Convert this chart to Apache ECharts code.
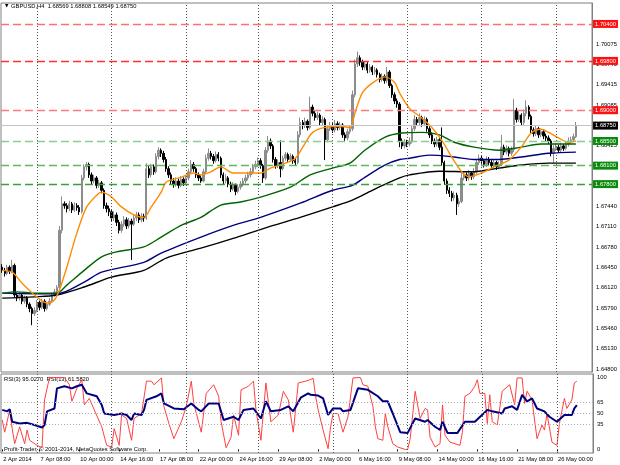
<!DOCTYPE html>
<html><head><meta charset="utf-8">
<script src="https://cdn.jsdelivr.net/npm/echarts@6/dist/echarts.min.js"></script>
<style>html,body{margin:0;padding:0;background:#fff}#c{width:620px;height:465px}</style>
</head><body><div id="c"></div>
<script>
// Prices are stored as pips above 1.6000 (e.g. 640 -> 1.6640)
const opens = [645,640,635,645,638,648,600,595,600,590, 595,585,578,570,575,588,580,590,578,585, 590,600,605,612,705,748,745,740,748,738, 745,742,735,790,808,812,795,785,790,778, 782,770,745,740,735,725,730,718,705,715, 722,712,720,715,725,730,722,728,725,805, 795,808,800,825,835,830,820,805,795,785, 780,785,778,788,782,790,800,812,805,795, 790,785,800,822,830,825,818,828,822,795, 785,790,780,772,778,768,775,780,785,790, 795,800,808,812,818,810,790,835,850,842, 820,810,815,805,822,828,820,825,818,815, 860,880,875,882,872,905,895,888,892,880, 885,852,870,875,868,878,872,876,860,855, 865,870,925,975,985,978,970,975,965,970, 962,965,958,950,955,948,962,940,925,915, 910,850,842,848,845,850,870,885,880,888, 878,885,870,860,850,845,852,840,815,785, 770,765,758,762,748,752,790,795,790,798, 792,800,815,822,818,812,820,815,810,815, 808,812,840,832,838,830,836,900,885,892, 880,895,905,890,868,862,870,860,865,858, 855,850,830,838,840,835,842,838,845,850, 852,856.9];
const highs = [650,644,649,648,657,651,604,605,603,599, 598,588,581,580,592,591,594,593,589,595, 604,610,616,712,760,752,749,753,751,750, 749,746,795,812,816,815,799,795,793,787, 785,773,750,745,739,736,734,722,720,728, 726,725,724,730,735,734,733,732,814,810, 813,812,830,840,838,834,824,809,799,790, 791,789,793,791,795,805,819,816,808,799, 794,805,828,838,834,829,833,832,825,799, 796,793,784,783,781,780,785,790,795,800, 806,813,818,823,822,813,840,858,854,845, 824,820,851,826,832,831,830,828,822,866, 888,884,888,885,922,909,899,898,895,890, 888,876,881,879,884,882,881,879,864,870, 875,932,982,995,989,982,980,978,975,973, 970,968,961,960,958,970,965,943,929,919, 913,854,853,852,856,876,892,889,895,891, 890,888,874,864,854,857,855,872,818,789, 775,769,768,766,757,798,801,799,803,801, 806,820,828,826,821,825,824,819,820,818, 817,860,844,843,841,841,918,904,898,895, 901,916,908,893,872,875,873,870,868,862, 859,853,843,846,844,847,845,849,856,857, 862,880.8];
const lows = [636,630,632,634,635,596,590,591,585,586, 580,572,551,566,572,575,577,573,575,582, 587,597,602,609,700,740,734,736,733,735, 737,730,732,786,802,790,780,781,773,774, 765,740,734,728,719,720,712,700,701,711, 707,708,657,712,720,717,718,719,722,790, 791,795,797,820,824,815,800,790,780,774, 776,773,775,777,779,786,797,800,790,785, 782,783,797,818,820,813,815,817,790,779, 781,775,767,769,762,765,771,776,781,786, 791,796,804,808,805,782,787,831,837,815, 805,806,791,802,818,815,816,813,810,812, 856,869,871,867,869,890,883,884,875,876, 819,848,866,863,864,867,868,855,850,851, 861,866,921,970,972,965,966,960,961,957, 958,953,945,946,943,944,936,920,910,904, 840,837,838,840,841,846,866,875,876,873, 874,865,855,845,840,841,835,810,779,764, 759,752,753,730,743,749,786,785,786,787, 788,796,811,813,807,808,810,804,806,803, 804,809,827,828,825,826,832,880,881,875, 876,890,885,863,857,858,855,856,853,850, 845,825,814,834,831,832,834,835,841,846, 848,854.9];
const closes = [640,635,645,638,648,600,595,600,590,595, 585,578,570,575,588,580,590,578,585,590, 600,605,612,705,748,745,740,748,738,745, 742,735,790,808,812,795,785,790,778,782, 770,745,740,735,725,730,718,705,715,722, 712,720,715,725,730,722,728,725,805,795, 808,800,825,835,830,820,805,795,785,780, 785,778,788,782,790,800,812,805,795,790, 785,800,822,830,825,818,828,822,795,785, 790,780,772,778,768,775,780,785,790,795, 800,808,812,818,810,790,835,850,842,820, 810,815,805,822,828,820,825,818,815,860, 880,875,882,872,905,895,888,892,880,885, 852,870,875,868,878,872,876,860,855,865, 870,925,975,985,978,970,975,965,970,962, 965,958,950,955,948,962,940,925,915,910, 850,842,848,845,850,870,885,880,888,878, 885,870,860,850,845,852,840,815,785,770, 765,758,762,748,752,790,795,790,798,792, 800,815,822,818,812,820,815,810,815,808, 812,840,832,838,830,836,900,885,892,880, 895,905,890,868,862,870,860,865,858,855, 850,830,838,840,835,842,838,845,850,852, 857,875];

// moving averages: [bar index, pips]
const maOrange = [[0,640],[4,637],[8,619],[13,600],[18,587],[21,592],[23,608],[26,645],[30,700],[34,743],[38,762],[40,767],[44,759],[48,743],[53,730],[57,726],[60,743],[64,767],[66,783],[72,791],[77,798],[80,795],[84,800],[88,808],[93,798],[100,798],[104,798],[108,806],[114,814],[118,822],[121,840],[125,864],[130,872],[136,874],[140,872],[142,895],[145,928],[149,944],[154,954],[158,945],[160,928],[164,903],[169,887],[173,872],[177,851],[181,824],[185,800],[188,792],[193,798],[198,808],[204,819],[209,840],[213,863],[217,869],[220,864],[224,855],[228,848],[231,850]];
const maGreen = [[0,603],[6,605],[13,603],[22,603],[26,616],[33,640],[40,662],[46,670],[57,678],[64,694],[72,713],[80,726],[88,746],[96,751],[104,759],[116,775],[124,795],[133,806],[140,814],[146,835],[154,856],[161,863],[169,864],[176,860],[182,848],[190,840],[200,835],[209,840],[217,845],[231,845]];
const maBlue = [[0,603],[13,602],[22,602],[33,621],[40,637],[57,653],[64,668],[80,694],[93,713],[104,726],[120,749],[133,770],[141,778],[146,791],[154,811],[160,820],[164,822],[172,827],[182,824],[190,820],[200,820],[209,824],[220,830],[231,832]];
const maBlack = [[0,595],[13,597],[22,600],[33,613],[44,629],[57,640],[66,660],[80,676],[93,692],[106,709],[120,726],[133,743],[141,754],[149,770],[160,790],[164,795],[176,801],[189,800],[200,806],[209,811],[220,814],[231,814]];

// RSI: [bar index, value]
const rsi13 = [[0,55],[2,53],[3,56],[4,38.5],[7,36],[10,37],[13,34],[16,30.5],[17,34],[18,53],[21,57],[22,85],[25,88],[28,85],[30,88],[32,90],[34,78],[38,74],[40,62],[41,50],[45,48],[48,50],[50,48],[52,41],[53,50],[56,48],[57,55],[58,69],[62,74],[64,78],[65,64],[69,57],[73,56],[76,64],[79,55],[80,53],[83,64],[87,64],[89,41],[93,45.5],[95,41],[97,55],[101,57],[104,43],[106,67],[108,53],[112,55],[115,60],[117,53],[120,72],[123,78],[124,76],[127,75],[129,71],[131,48],[133,57],[136,57],[137,53],[140,55],[143,85],[147,83],[151,74],[153,67],[155,67],[157,50],[160,24],[163,23],[166,43],[170,38.5],[171,41],[174,31.5],[176,27],[177,38.5],[179,23],[183,23],[186,38.5],[190,38.5],[195,55],[197,53],[201,50],[202,57],[205,60],[207,55],[209,76],[211,67],[213,71],[215,57],[218,53],[220,45.5],[223,38.5],[226,48],[229,48],[230,57],[231,61.58]];
const rsi3 = [[0,41],[1,24],[3,55],[4,29],[5,8],[7,31.5],[9,8],[10,27],[11,12.7],[14,5.6],[16,2.3],[17,69],[19,100],[22,100],[25,100],[27,90],[28,67],[30,85],[32,97],[33,62],[35,71],[37,55],[40,31.5],[42,5.6],[44,3.3],[45,29],[47,5.6],[48,48],[50,43],[52,12.7],[53,43],[56,50],[58,95],[60,95],[61,90],[64,99.5],[65,60],[67,36],[69,15],[72,38.5],[74,60],[76,95],[77,64],[80,24],[82,78],[85,90],[87,74],[88,38.5],[90,2.3],[92,17],[93,48],[95,19.7],[96,83],[99,88],[101,95],[102,55],[104,12.7],[106,92.5],[108,38.5],[111,48],[113,81],[115,69],[117,24],[119,92.5],[123,96],[125,99],[126,74],[127,55],[129,27],[131,1],[132,31.5],[133,50],[135,50],[137,24],[139,45.5],[141,99.5],[143,100],[144,100],[145,90],[147,88],[149,60],[150,31.5],[151,15],[153,12.7],[154,50],[155,31.5],[157,8],[159,3.3],[162,0],[163,0],[164,15],[166,81],[168,43],[170,57],[171,55],[172,17],[174,3.3],[176,8],[177,62],[178,19.7],[180,10],[182,8],[184,5.6],[185,24],[186,74],[188,78],[190,88],[191,97],[192,78],[194,78],[195,36],[196,76],[197,38.5],[199,34],[201,81],[204,90],[206,62],[207,99.5],[209,99.5],[210,64],[211,81],[213,69],[214,41],[215,15],[217,34],[218,27],[219,50],[221,10],[223,5.6],[224,36],[226,71],[227,57],[229,69],[230,92.5],[231,95.03]];

const timeLabels = [[0,'2 Apr 2014'],[15,'7 Apr 08:00'],[31,'10 Apr 00:00'],[47,'14 Apr 16:00'],[63,'17 Apr 08:00'],[79,'22 Apr 00:00'],[95,'24 Apr 16:00'],[111,'29 Apr 08:00'],[127,'2 May 00:00'],[143,'6 May 16:00'],[159,'9 May 08:00'],[175,'14 May 00:00'],[191,'16 May 16:00'],[207,'21 May 08:00'],[223,'26 May 00:00']];
const priceTickLabels = ['1.64800','1.65130','1.65460','1.65790','1.66120','1.66450','1.66780','1.67110','1.67440','1.67770','1.68100','1.68425','1.68755','1.69085','1.69415','1.69745','1.70075'];
const rsiTickLabels = [0,35,50,65,100];
const resistanceLevels = [1.7040, 1.6980, 1.6900];
const supportLevels = [1.6850, 1.6810, 1.6780];
const lastPrice = 1.68750;
const rsiLevels = [35,50,65];

const SLOTS = 238;
const cats = Array.from({length: SLOTS}, (_, i) => i);
const px = p => +(1.6 + p / 10000).toFixed(5);
const candles = closes.map((c, i) => [px(opens[i]), px(c), px(lows[i]), px(highs[i])]);
const maData = arr => arr.map(d => [d[0], px(d[1])]);
const labelMap = new Map(timeLabels);
const priceLabelMap = new Map(priceTickLabels.map(s => [Math.round(parseFloat(s) * 1e5), s]));
const FONT = 'Liberation Sans';
const FS = 5.8;
const GRID_BARS = [14, 44, 74, 103, 133, 163, 193, 223];

const vGrid = GRID_BARS.map(v => ({xAxis: v, lineStyle: {color: '#555', type: [1, 2], width: 1}, label: {show: false}}));
const levelLine = (v, color, bg, type, width) => ({
  yAxis: v,
  lineStyle: {color, type, width},
  label: {show: true, position: 'end', distance: 1, formatter: v.toFixed(5), color: '#fff', backgroundColor: bg, padding: [1, 2, 0, 2], fontSize: FS, fontFamily: FONT, lineHeight: 7}
});
const redColors = ['#ff7070', '#ff3030', '#ff7a7a'];
const greenColors = ['#8ccc8c', '#60b860', '#3aa03a'];
const levelMarks = [
  ...resistanceLevels.map((v, k) => levelLine(v, redColors[k], '#ff1010', [8, 4], 1.3)),
  ...supportLevels.map((v, k) => levelLine(v, greenColors[k], '#0a8a0a', [8, 4], 1.3)),
  levelLine(lastPrice, '#c4c4c4', '#000', 'solid', 1)
];

const chart = echarts.init(document.getElementById('c'), null, {renderer: 'canvas'});
chart.setOption({
  animation: false,
  backgroundColor: '#fff',
  textStyle: {fontFamily: FONT},
  grid: [
    {left: 1, right: 27, top: 3, height: 369, show: true, borderColor: '#808080', borderWidth: 1, backgroundColor: 'transparent'},
    {left: 1, right: 27, top: 374, height: 79, show: true, borderColor: '#808080', borderWidth: 1, backgroundColor: 'transparent'}
  ],
  xAxis: [
    {type: 'category', gridIndex: 0, data: cats, boundaryGap: true, axisLine: {show: false}, axisTick: {show: false}, axisLabel: {show: false}, splitLine: {show: false}},
    {type: 'category', gridIndex: 1, data: cats, boundaryGap: true, axisLine: {show: false},
      axisTick: {show: true, alignWithLabel: true, length: 2, interval: (i) => labelMap.has(i), lineStyle: {color: '#000'}},
      axisLabel: {show: true, interval: (i) => labelMap.has(i), formatter: (v, i) => labelMap.get(+v) || '', align: 'left', margin: 3, fontSize: FS, color: '#000', fontFamily: FONT, padding: [0, 0, 0, 1]},
      splitLine: {show: false}}
  ],
  yAxis: [
    {type: 'value', gridIndex: 0, position: 'right', min: 1.6475, max: 1.7074, interval: 0.00005,
      axisLine: {show: true, lineStyle: {color: '#808080'}}, axisTick: {show: false}, splitLine: {show: false},
      axisLabel: {show: true, margin: 4, fontSize: FS, color: '#000', fontFamily: FONT, showMinLabel: true, showMaxLabel: true,
        formatter: v => priceLabelMap.get(Math.round(v * 1e5)) || ''}},
    {type: 'value', gridIndex: 1, position: 'right', min: -5, max: 105, interval: 5,
      axisLine: {show: true, lineStyle: {color: '#808080'}}, axisTick: {show: false}, splitLine: {show: false},
      axisLabel: {show: true, margin: 4, fontSize: FS, color: '#000', fontFamily: FONT,
        formatter: v => rsiTickLabels.includes(Math.round(v)) ? String(Math.round(v)) : ''}}
  ],
  series: [
    {type: 'candlestick', xAxisIndex: 0, yAxisIndex: 0, data: candles, barWidth: 1.9, z: 2,
      itemStyle: {color: '#8c8c8c', color0: '#000', borderColor: '#8c8c8c', borderColor0: '#000', borderWidth: 1},
      markLine: {silent: true, symbol: ['none', 'none'], animation: false, label: {show: false}, data: vGrid}},
    {type: 'line', xAxisIndex: 0, yAxisIndex: 0, data: maData(maBlack), smooth: 0.3, showSymbol: false, z: 3, lineStyle: {color: '#000', width: 1.4},
      markLine: {silent: true, symbol: ['none', 'none'], animation: false, precision: 5, data: levelMarks}},
    {type: 'line', xAxisIndex: 0, yAxisIndex: 0, data: maData(maBlue), smooth: 0.3, showSymbol: false, z: 3, lineStyle: {color: '#00007a', width: 1.4}},
    {type: 'line', xAxisIndex: 0, yAxisIndex: 0, data: maData(maGreen), smooth: 0.3, showSymbol: false, z: 3, lineStyle: {color: '#006400', width: 1.4}},
    {type: 'line', xAxisIndex: 0, yAxisIndex: 0, data: maData(maOrange), smooth: 0.3, showSymbol: false, z: 3, lineStyle: {color: '#ff8c00', width: 1.4}},
    {type: 'line', xAxisIndex: 1, yAxisIndex: 1, data: rsi3, showSymbol: false, lineStyle: {color: '#ff4040', width: 1},
      markLine: {silent: true, symbol: ['none', 'none'], animation: false, label: {show: false},
        data: [...rsiLevels.map(v => ({yAxis: v, lineStyle: {color: '#b0b0b0', type: [1, 2], width: 1}})),
               ...GRID_BARS.map(v => ({xAxis: v, lineStyle: {color: '#555', type: [1, 2], width: 1}}))]}},
    {type: 'line', xAxisIndex: 1, yAxisIndex: 1, data: rsi13, showSymbol: false, lineStyle: {color: '#000080', width: 2}}
  ],
  graphic: [
    {type: 'text', left: 5, top: 3, style: {text: '▼', fontSize: 4.5, fill: '#000', fontFamily: 'DejaVu Sans'}},
    {type: 'text', left: 11, top: 3, style: {text: 'GBPUSD,H4  1.68569 1.68808 1.68549 1.68750', fontSize: FS, fill: '#000', fontFamily: FONT}},
    {type: 'text', left: 4, top: 376, style: {text: 'RSI(3) 95.0270  RSI(13) 61.5820', fontSize: FS, fill: '#000', fontFamily: FONT}},
    {type: 'text', left: 4, top: 446, style: {text: 'Profit-Trader, © 2001-2014, MetaQuotes Software Corp.', fontSize: FS, fill: '#000', fontFamily: FONT}}
  ]
});
</script></body></html>
